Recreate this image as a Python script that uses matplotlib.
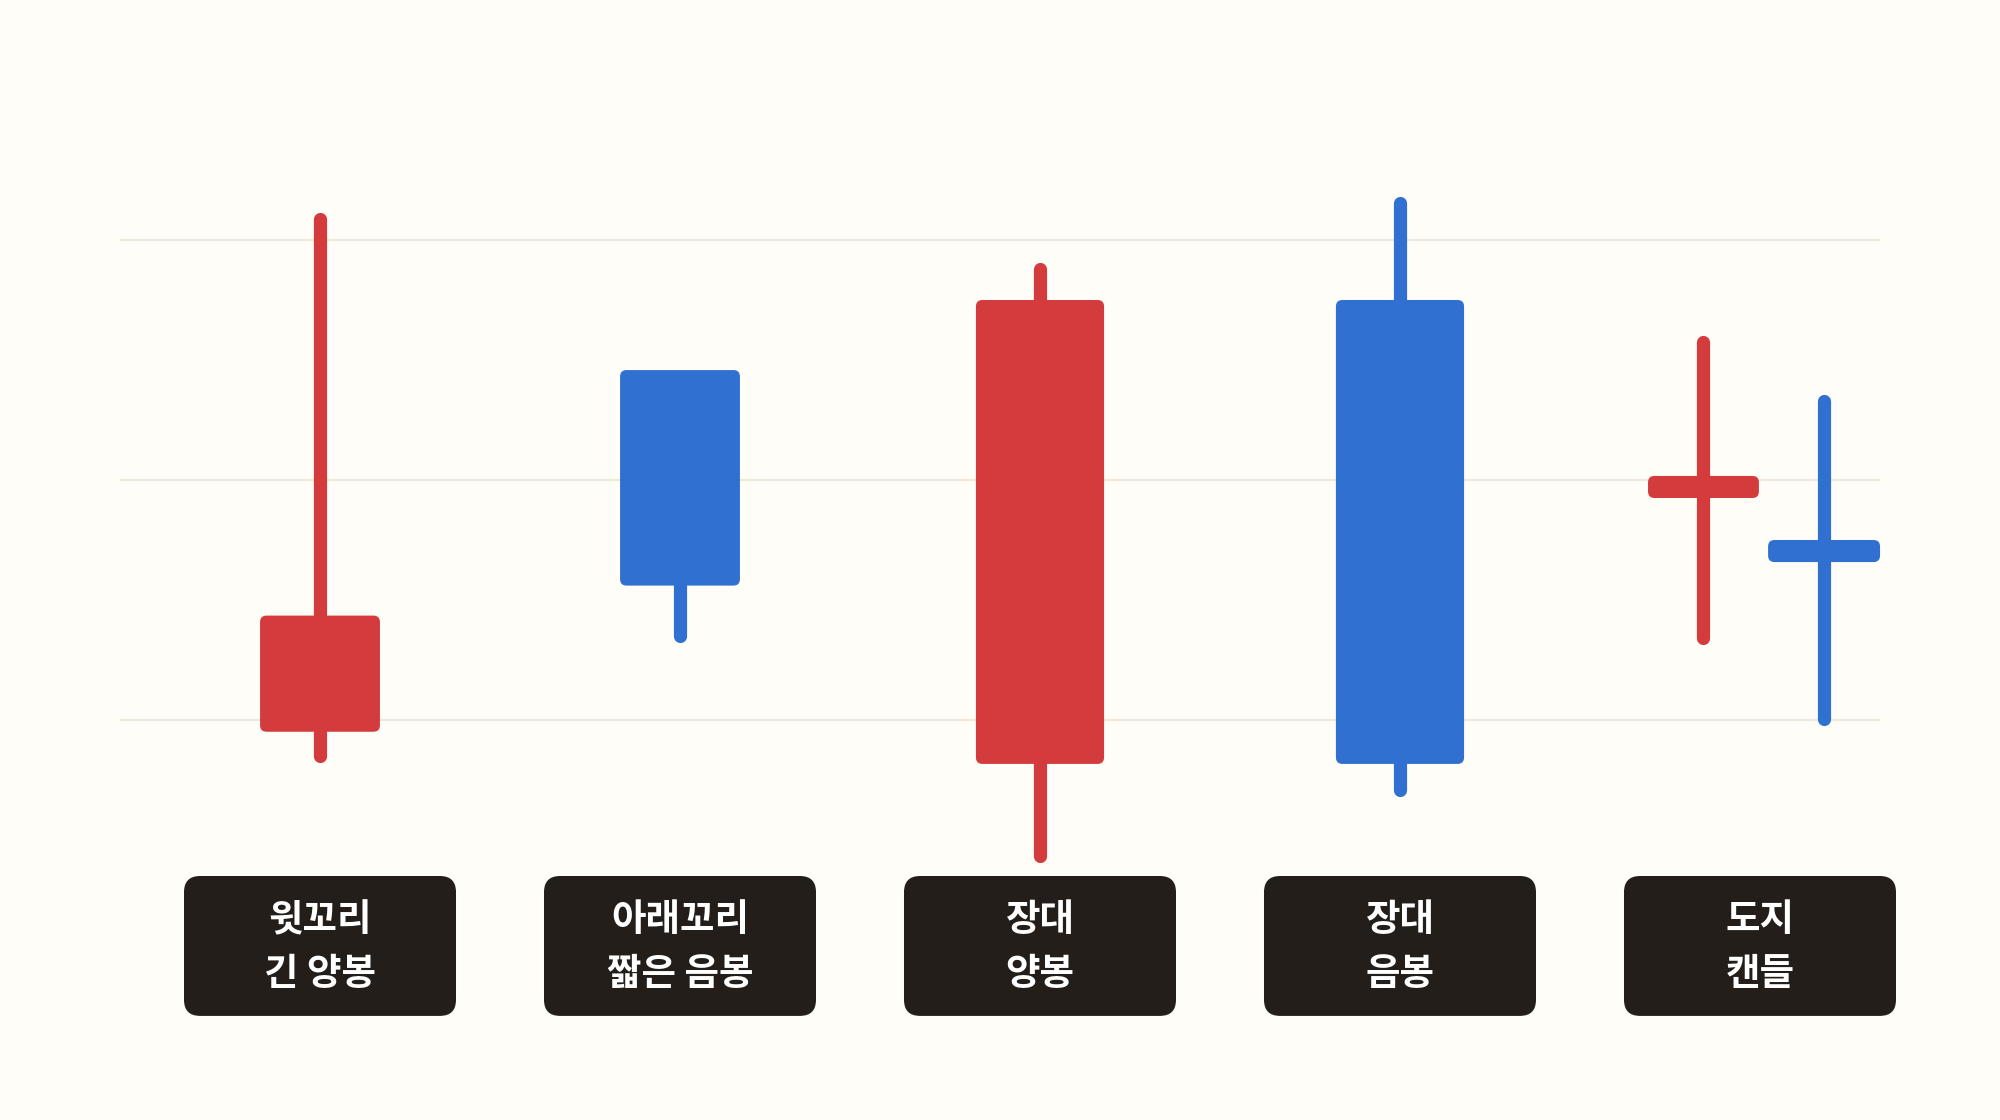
import matplotlib
matplotlib.use("Agg")
import matplotlib.pyplot as plt
from matplotlib.patches import FancyBboxPatch
import matplotlib.transforms as mtransforms

plt.rcParams["font.family"] = ["Noto Sans CJK KR", "DejaVu Sans"]

# ── data ──────────────────────────────────────────────────────────────────────
# candle x positions (category slots; doji pair shares slot 4)
CANDLE_X = [0, 1, 2, 3, 3.843, 4.178]
OPEN = [99.51, 114.58, 98.17, 117.50, 109.25, 107.50]
CLOSE = [104.35, 105.60, 117.50, 98.17, 110.17, 106.58]
HIGH = [120.87, 114.58, 118.78, 121.53, 115.77, 113.31]
LOW = [98.49, 103.49, 94.33, 97.08, 103.40, 100.06]
BODY_W = [0.333, 0.333, 0.356, 0.356, 0.308, 0.311]

GRID_Y = [100, 110, 120]

LABEL_X = [0, 1, 2, 3, 4]
LABEL_TOP = ["윗꼬리", "아래꼬리", "장대", "장대", "도지"]
LABEL_BOTTOM = ["긴 양봉", "짧은 음봉", "양봉", "음봉", "캔들"]

RED = "#D33B3D"
BLUE = "#2F70D1"
BG = "#FFFDF7"
GRID = "#EEE8D9"
BOX = "#231E19"

# ── figure ────────────────────────────────────────────────────────────────────
fig = plt.figure(figsize=(20, 11.2), dpi=100)
fig.patch.set_facecolor(BG)
ax = fig.add_axes([0, 0, 1, 1])
ax.set_facecolor(BG)
ax.set_xlim(-0.8889, 4.6667)
ax.set_ylim(83.333, 130)
ax.axis("off")

# px -> data unit ratio (x unit = 360 px, y unit = 24 px)
aspect = 360 / 24

for gy in GRID_Y:
    ax.plot([-0.5556, 4.3333], [gy, gy], color=GRID, lw=1.6, zorder=0,
            solid_capstyle="butt")

for x, o, c, h, l, w in zip(CANDLE_X, OPEN, CLOSE, HIGH, LOW, BODY_W):
    col = RED if c >= o else BLUE
    top, bot = max(o, c), min(o, c)
    mid = (top + bot) / 2
    if h > top:
        ax.plot([x, x], [mid, h], color=col, lw=9.5, solid_capstyle="round", zorder=2)
    if l < bot:
        ax.plot([x, x], [mid, l], color=col, lw=9.5, solid_capstyle="round", zorder=2)
    body = FancyBboxPatch((x - w / 2, bot), w, top - bot,
                          boxstyle="round,pad=0,rounding_size=0.018",
                          mutation_aspect=aspect, facecolor=col,
                          edgecolor="none", zorder=3)
    ax.add_patch(body)

# ── labels ────────────────────────────────────────────────────────────────────
box_w = 0.7556
box_top, box_bot = 93.5, 87.67
for x, t1, t2 in zip(LABEL_X, LABEL_TOP, LABEL_BOTTOM):
    box = FancyBboxPatch((x - box_w / 2, box_bot), box_w, box_top - box_bot,
                         boxstyle="round,pad=0,rounding_size=0.045",
                         mutation_aspect=aspect, facecolor=BOX,
                         edgecolor="none", zorder=3)
    ax.add_patch(box)
    ax.text(x, 91.67, t1, ha="center", va="center", color="white",
            fontsize=27, fontweight="bold", zorder=4)
    ax.text(x, 89.43, t2, ha="center", va="center", color="white",
            fontsize=27, fontweight="bold", zorder=4)

fig.savefig("out.png", dpi=100, facecolor=BG)
